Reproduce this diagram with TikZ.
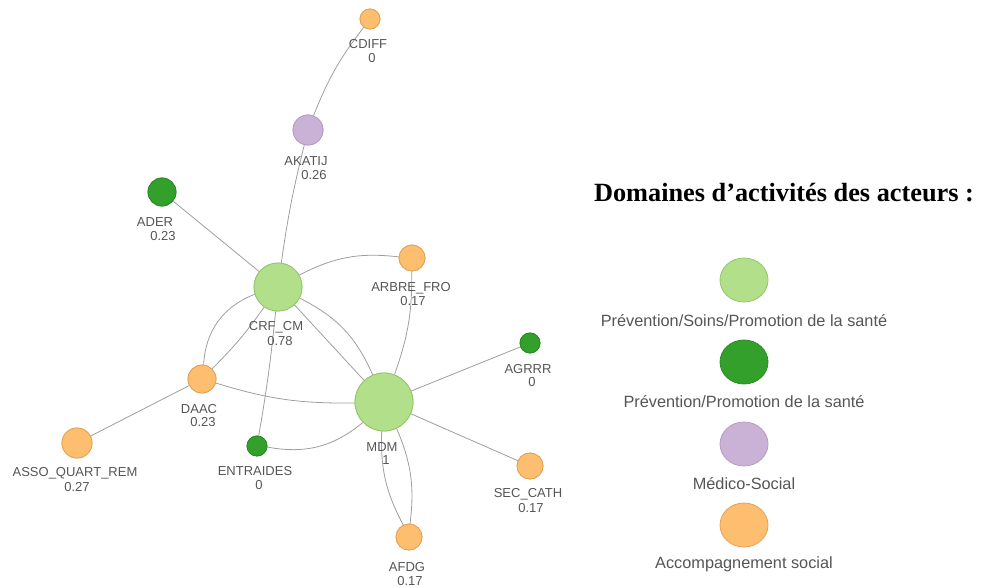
\documentclass[tikz,border=0pt]{standalone}
\usepackage{fontspec}
\setmainfont{Liberation Sans}
\newfontfamily\titlefont{Liberation Serif}
\usetikzlibrary{shapes.geometric}
\definecolor{lgfill}{HTML}{B2DF8A}
\definecolor{lgdraw}{HTML}{92C76C}
\definecolor{dgfill}{HTML}{33A02C}
\definecolor{dgdraw}{HTML}{2A8A24}
\definecolor{pufill}{HTML}{CAB2D6}
\definecolor{pudraw}{HTML}{B49BC3}
\definecolor{orfill}{HTML}{FDBF6F}
\definecolor{ordraw}{HTML}{E3A256}
\definecolor{edgegray}{HTML}{9E9E9E}
\definecolor{labgray}{HTML}{555555}
\begin{document}
\begin{tikzpicture}[x=1pt,y=-1pt,
  actor/.style={circle, line width=0.8pt, inner sep=0pt, minimum size=#1},
  lgn/.style={fill=lgfill, draw=lgdraw},
  dgn/.style={fill=dgfill, draw=dgdraw},
  pun/.style={fill=pufill, draw=pudraw},
  orn/.style={fill=orfill, draw=ordraw},
  edge/.style={draw=edgegray, line width=0.8pt},
  lab/.style={text=labgray, inner sep=0pt, font=\fontsize{13}{13}\selectfont},
  leglab/.style={text=labgray, inner sep=0pt, font=\fontsize{16.3}{16.3}\selectfont},
  legdot/.style={ellipse, line width=0.8pt, inner sep=0pt, minimum width=48pt, minimum height=44pt}
]
\useasboundingbox (0,0) rectangle (981,588);

% nodes
\node[actor=20pt, orn] (cdiff) at (370,19) {};
\node[actor=30pt, pun] (akatij) at (308,130) {};
\node[actor=28pt, dgn] (ader) at (162,192) {};
\node[actor=48pt, lgn] (crf) at (278,287) {};
\node[actor=26pt, orn] (arbre) at (412,258) {};
\node[actor=20pt, dgn] (agrrr) at (530,343) {};
\node[actor=28pt, orn] (daac) at (202,379) {};
\node[actor=58pt, lgn] (mdm) at (384,402) {};
\node[actor=30pt, orn] (asso) at (77,443) {};
\node[actor=20pt, dgn] (entr) at (257,446) {};
\node[actor=26pt, orn] (sec) at (530,466) {};
\node[actor=26pt, orn] (afdg) at (409,537) {};

% edges
\path[edge] (cdiff) to[bend right=8] (akatij);
\path[edge] (akatij) to[bend right=3] (crf);
\path[edge] (ader) -- (crf);
\path[edge] (crf) to[bend left=17] (arbre);
\path[edge] (arbre) to[bend left=10] (mdm);
\path[edge] (crf) to[bend right=33] (daac);
\path[edge] (crf) to[bend left=5] (daac);
\path[edge] (crf) to[bend left=20] (mdm);
\path[edge] (crf) -- (mdm);
\path[edge] (crf) to[bend left=2] (entr);
\path[edge] (daac) to[bend right=9] (mdm);
\path[edge] (daac) -- (asso);
\path[edge] (entr) to[bend right=25] (mdm);
\path[edge] (mdm) -- (agrrr);
\path[edge] (mdm) -- (sec);
\path[edge] (mdm) to[bend left=15] (afdg);
\path[edge] (mdm) to[bend right=15] (afdg);

% redraw nodes on top of edges
\node[actor=20pt, orn] at (cdiff) {};
\node[actor=30pt, pun] at (akatij) {};
\node[actor=28pt, dgn] at (ader) {};
\node[actor=48pt, lgn] at (crf) {};
\node[actor=26pt, orn] at (arbre) {};
\node[actor=20pt, dgn] at (agrrr) {};
\node[actor=28pt, orn] at (daac) {};
\node[actor=58pt, lgn] at (mdm) {};
\node[actor=30pt, orn] at (asso) {};
\node[actor=20pt, dgn] at (entr) {};
\node[actor=26pt, orn] at (sec) {};
\node[actor=26pt, orn] at (afdg) {};

% labels
\node[lab] (cdiffn) at (368,44) {CDIFF};
\node[lab] (cdiffv) at (372,58) {0};
\node[lab] (akatijn) at (306,161) {AKATIJ};
\node[lab] (akatijv) at (314,175) {0.26};
\node[lab] (adern) at (155,222) {ADER};
\node[lab] (aderv) at (163,236) {0.23};
\node[lab] (crfn) at (276,327) {CRF\_CM};
\node[lab] (crfv) at (280,341) {0.78};
\node[lab] (arbren) at (411,288) {ARBRE\_FRO};
\node[lab] (arbrev) at (413,301) {0.17};
\node[lab] (agrrrn) at (528,369) {AGRRR};
\node[lab] (agrrrv) at (532,382) {0};
\node[lab] (daacn) at (199,409) {DAAC};
\node[lab] (daacv) at (203,422) {0.23};
\node[lab] (mdmn) at (382,447) {MDM};
\node[lab] (mdmv) at (386,460) {1};
\node[lab] (asson) at (75,473) {ASSO\_QUART\_REM};
\node[lab] (assov) at (77,487) {0.27};
\node[lab] (entrn) at (255,471) {ENTRAIDES};
\node[lab] (entrv) at (259,485) {0};
\node[lab] (secn) at (528,494) {SEC\_CATH};
\node[lab] (secv) at (531,508) {0.17};
\node[lab] (afdgn) at (407,567) {AFDG};
\node[lab] (afdgv) at (410,581) {0.17};

% legend
\node[text=black, inner sep=0pt, font=\titlefont\bfseries\fontsize{26.3}{26.3}\selectfont] (title) at (784,193) {Domaines d’activités des acteurs :};
\node[legdot, lgn] (l1) at (744,280) {};
\node[leglab] (l1t) at (744,321) {Prévention/Soins/Promotion de la santé};
\node[legdot, dgn] (l2) at (744,362) {};
\node[leglab] (l2t) at (744,402) {Prévention/Promotion de la santé};
\node[legdot, pun] (l3) at (744,444) {};
\node[leglab] (l3t) at (744,484) {Médico-Social};
\node[legdot, orn] (l4) at (744,525) {};
\node[leglab] (l4t) at (744,564) {Accompagnement social};
\end{tikzpicture}
\end{document}
